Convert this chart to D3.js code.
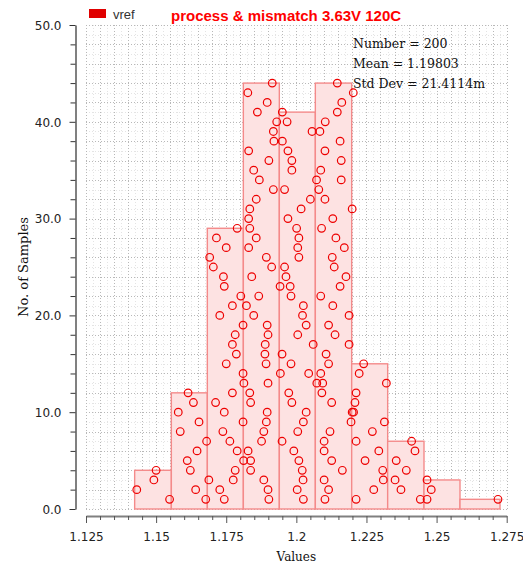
<!DOCTYPE html>
<html>
<head>
<meta charset="utf-8">
<script src="https://cdn.jsdelivr.net/npm/d3@7"></script>
<style>
  html, body { margin: 0; padding: 0; background: #ffffff; }
  svg { display: block; }
</style>
</head>
<body>
<svg id="chart" width="523" height="565"></svg>
<script>
// ---------------- data ----------------
const seriesName = "vref";
const chartTitle = "process & mismatch 3.63V 120C";
const statLines = ["Number = 200", "Mean = 1.19803", "Std Dev = 21.4114m"];
const xLabel = "Values";
const yLabel = "No. of Samples";

// histogram bins (edges) and counts
const binEdges = [1.14235, 1.15543, 1.16826, 1.18110, 1.19393, 1.20677, 1.21973, 1.23256, 1.24551, 1.25835, 1.27261];
const binCounts = [4, 12, 29, 44, 41, 44, 15, 7, 3, 1];

// sample values per bin, listed by stacking level 1..count
const bin1Samples = [1.1548, 1.1431, 1.1492, 1.1500];
const bin2Samples = [1.1677, 1.1641, 1.1688, 1.1622, 1.1611, 1.1646, 1.1680, 1.1586, 1.1653, 1.1579, 1.1633, 1.1614];
const bin3Samples = [1.1743, 1.1727, 1.1775, 1.1782, 1.1812, 1.1789, 1.1763, 1.1738, 1.1810, 1.1743,
                     1.1712, 1.1772, 1.1813, 1.1810, 1.1750, 1.1786, 1.1772, 1.1782, 1.1810, 1.1727,
                     1.1772, 1.1802, 1.1743, 1.1740, 1.1704, 1.1691, 1.1750, 1.1715, 1.1789];
const bin4Samples = [1.1902, 1.1899, 1.1884, 1.1837, 1.1837, 1.1828, 1.1876, 1.1884, 1.1893, 1.1896,
                     1.1837, 1.1834, 1.1899, 1.1943, 1.1892, 1.1888, 1.1889, 1.1899, 1.1896, 1.1848,
                     1.1822, 1.1866, 1.1942, 1.1841, 1.1912, 1.1893, 1.1830, 1.1857, 1.1834, 1.1830,
                     1.1834, 1.1857, 1.1918, 1.1868, 1.1848, 1.1902, 1.1830, 1.1920, 1.1918, 1.1930,
                     1.1861, 1.1896, 1.1827, 1.1914];
const bin5Samples = [1.2025, 1.2003, 1.2024, 1.2021, 1.2009, 1.1991, 1.1949, 1.2005, 1.2025, 1.2035,
                     1.1984, 1.1973, 1.2073, 1.2044, 1.1981, 1.1949, 1.2060, 1.2005, 1.2035, 1.2022,
                     1.2025, 1.1981, 1.1978, 1.1963, 1.1958, 1.2009, 1.2005, 1.2009, 1.2001, 1.1970,
                     1.2017, 1.2050, 1.1958, 1.2072, 1.1984, 1.1984, 1.1970, 1.1950, 1.2056, 1.1967,
                     1.1950];
const bin6Samples = [1.2102, 1.2115, 1.2099, 1.2164, 1.2126, 1.2099, 1.2099, 1.2120, 1.2195, 1.2199,
                     1.2126, 1.2091, 1.2094, 1.2087, 1.2115, 1.2106, 1.2188, 1.2138, 1.2115, 1.2188,
                     1.2130, 1.2087, 1.2156, 1.2177, 1.2135, 1.2128, 1.2171, 1.2141, 1.2090, 1.2130,
                     1.2199, 1.2102, 1.2080, 1.2160, 1.2087, 1.2160, 1.2102, 1.2156, 1.2084, 1.2103,
                     1.2146, 1.2162, 1.2203, 1.2146];
const bin7Samples = [1.2213, 1.2276, 1.2310, 1.2308, 1.2245, 1.2294, 1.2213, 1.2271, 1.2314, 1.2204,
                     1.2209, 1.2213, 1.2321, 1.2224, 1.2240];
const bin8Samples = [1.2442, 1.2373, 1.2352, 1.2392, 1.2356, 1.2423, 1.2411];
const bin9Samples = [1.2466, 1.2481, 1.2466];
const bin10Samples = [1.2719];

// axis tick settings
const xMajorTicks = [1.125, 1.15, 1.175, 1.2, 1.225, 1.25, 1.275];
const yMajorTicks = [0, 10, 20, 30, 40, 50];

// ---------------- drawing ----------------
const svg = d3.select("#chart");

const x = d3.scaleLinear().domain([1.125, 1.275]).range([86, 506.7]);
const y = d3.scaleLinear().domain([0, 50]).range([509, 25]);

const plotLeft = 86, plotRight = 507, plotTop = 25, plotBottom = 509;

// grid
const grid = svg.append("g");
const xMinorVals = d3.range(0, 31).map(i => 1.125 + i * 0.005);
const xFaintVals = d3.range(0, 30).map(i => 1.125 + 0.0025 + i * 0.005);
const yMinorVals = d3.range(0, 51, 2);
const yFaintVals = d3.range(1, 50, 2);

grid.selectAll("line.hf").data(yFaintVals).join("line")
  .attr("x1", plotLeft).attr("x2", plotRight)
  .attr("y1", d => Math.round(y(d)) + 0.5).attr("y2", d => Math.round(y(d)) + 0.5)
  .attr("stroke", "#e4e4e4").attr("stroke-width", 1).attr("stroke-dasharray", "1,2");
grid.selectAll("line.vf").data(xFaintVals).join("line")
  .attr("y1", plotTop).attr("y2", plotBottom)
  .attr("x1", d => Math.round(x(d)) + 0.5).attr("x2", d => Math.round(x(d)) + 0.5)
  .attr("stroke", "#e4e4e4").attr("stroke-width", 1).attr("stroke-dasharray", "1,2");
grid.selectAll("line.h").data(yMinorVals).join("line")
  .attr("x1", plotLeft).attr("x2", plotRight)
  .attr("y1", d => Math.round(y(d)) + 0.5).attr("y2", d => Math.round(y(d)) + 0.5)
  .attr("stroke", "#b8b8b8").attr("stroke-width", 1).attr("stroke-dasharray", "1,2");
grid.selectAll("line.v").data(xMinorVals).join("line")
  .attr("y1", plotTop).attr("y2", plotBottom)
  .attr("x1", d => Math.round(x(d)) + 0.5).attr("x2", d => Math.round(x(d)) + 0.5)
  .attr("stroke", "#b8b8b8").attr("stroke-width", 1).attr("stroke-dasharray", "1,2");

// bars
const bins = binCounts.map((c, i) => ({ x0: binEdges[i], x1: binEdges[i + 1], count: c }));
svg.append("g").selectAll("rect").data(bins).join("rect")
  .attr("x", d => x(d.x0))
  .attr("y", d => y(d.count))
  .attr("width", d => x(d.x1) - x(d.x0))
  .attr("height", d => y(0) - y(d.count))
  .attr("fill", "#fde2e2")
  .attr("stroke", "#f48a8a")
  .attr("stroke-width", 1.4);

// sample points
const allBins = [bin1Samples, bin2Samples, bin3Samples, bin4Samples, bin5Samples,
                 bin6Samples, bin7Samples, bin8Samples, bin9Samples, bin10Samples];
const points = [];
allBins.forEach(arr => arr.forEach((v, i) => points.push({ v, level: i + 1 })));
svg.append("g").selectAll("circle").data(points).join("circle")
  .attr("cx", d => x(d.v))
  .attr("cy", d => y(d.level))
  .attr("r", 3.8)
  .attr("fill", "none")
  .attr("stroke", "#ee0000")
  .attr("stroke-width", 1.2);

// y axis
const yAxis = d3.axisLeft(y)
  .tickValues(yMinorVals)
  .tickSize(5)
  .tickSizeOuter(0)
  .tickFormat(d => (yMajorTicks.includes(d) ? d3.format(".1f")(d) : ""));
const yg = svg.append("g").attr("transform", "translate(75.5,0)").call(yAxis);
yg.select(".domain").attr("stroke", "#808080").attr("stroke-width", 2);
yg.selectAll(".tick line").attr("stroke", "#333").attr("stroke-width", 1);
yg.selectAll(".tick line").filter(d => yMajorTicks.includes(d)).attr("x2", -6);
yg.selectAll(".tick text")
  .attr("x", -14)
  .attr("dy", "0.36em")
  .attr("fill", "#222")
  .style("font-family", "DejaVu Sans, sans-serif")
  .style("font-size", "12px");

// x axis
const xAxis = d3.axisBottom(x)
  .tickValues(xMinorVals)
  .tickSize(4)
  .tickSizeOuter(0)
  .tickFormat(d => {
    const isMajor = xMajorTicks.some(m => Math.abs(m - d) < 1e-9);
    return isMajor ? String(+d.toFixed(3)) : "";
  });
const xg = svg.append("g").attr("transform", "translate(0,516)").call(xAxis);
xg.select(".domain").attr("stroke", "#808080").attr("stroke-width", 2);
xg.selectAll(".tick line").attr("stroke", "#555").attr("stroke-width", 1);
xg.selectAll(".tick line").filter(d => xMajorTicks.some(m => Math.abs(m - d) < 1e-9)).attr("y2", 7);
xg.selectAll(".tick text")
  .attr("y", 16)
  .attr("dy", "0.71em")
  .attr("fill", "#222")
  .style("font-family", "DejaVu Sans, sans-serif")
  .style("font-size", "12px");

// axis labels
svg.append("text")
  .attr("x", (plotLeft + 506.7) / 2).attr("y", 561)
  .attr("text-anchor", "middle")
  .attr("fill", "#111")
  .style("font-family", "DejaVu Serif, serif").style("font-size", "12px")
  .text(xLabel);
svg.append("text")
  .attr("transform", "translate(28," + ((plotTop + plotBottom) / 2) + ") rotate(-90)")
  .attr("text-anchor", "middle")
  .attr("fill", "#111")
  .style("font-family", "DejaVu Serif, serif").style("font-size", "13px")
  .text(yLabel);

// legend
svg.append("rect").attr("x", 89).attr("y", 9).attr("width", 17).attr("height", 9).attr("fill", "#e00000");
svg.append("text").attr("x", 113).attr("y", 18.5)
  .attr("fill", "#333")
  .style("font-family", "Liberation Sans, Arial, sans-serif").style("font-size", "13px")
  .text(seriesName);

// title
svg.append("text").attr("x", 171).attr("y", 20.5)
  .attr("fill", "#ff0000")
  .style("font-family", "Liberation Sans, Arial, sans-serif").style("font-size", "15px").style("font-weight", "bold")
  .text(chartTitle);

// statistics
svg.append("g").selectAll("text").data(statLines).join("text")
  .attr("x", 353)
  .attr("y", (d, i) => 47.5 + i * 20)
  .attr("fill", "#111")
  .style("font-family", "DejaVu Serif, serif").style("font-size", "12.5px")
  .attr("xml:space", "preserve")
  .text(d => d);
</script>
</body>
</html>
